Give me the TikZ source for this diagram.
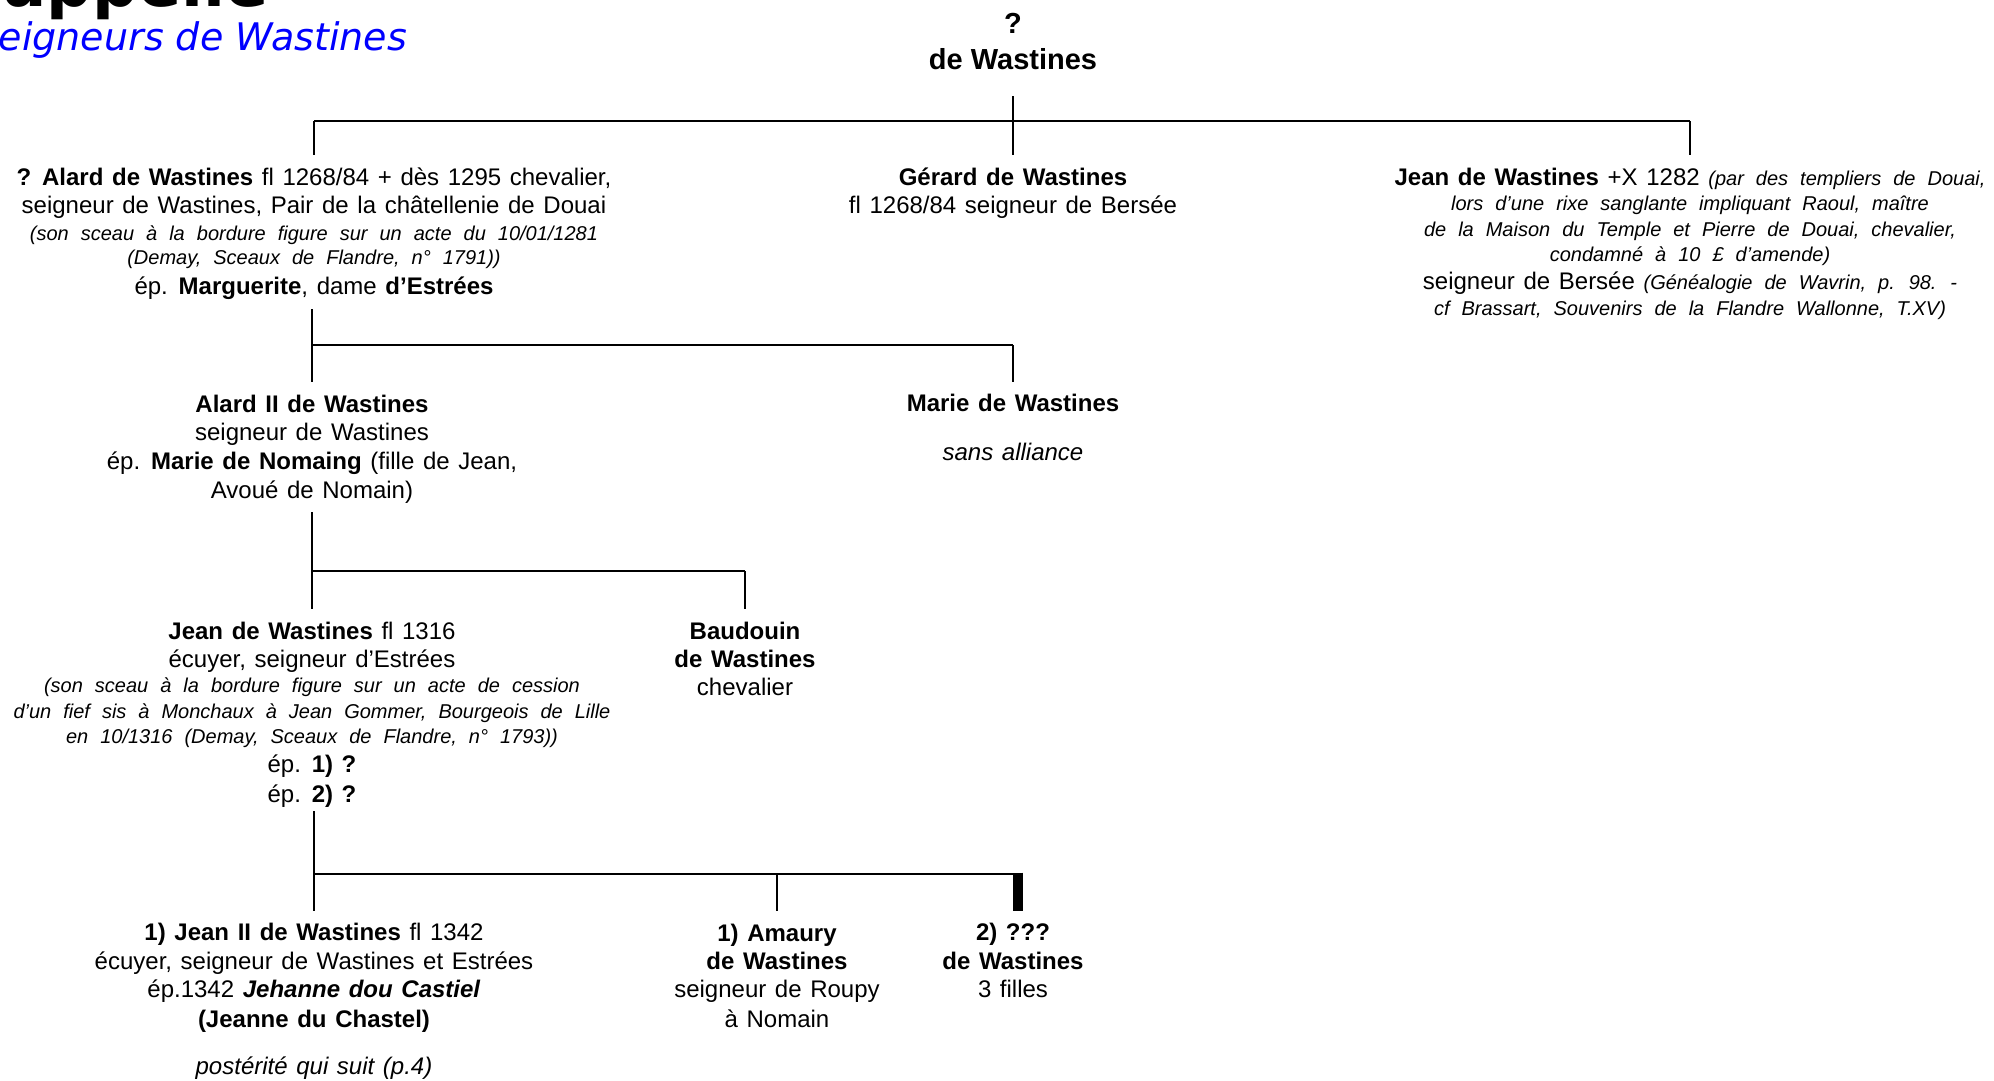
\documentclass[tikz,border=0pt]{standalone}
\usepackage{fontspec}
\setmainfont{Liberation Sans}
\newfontfamily\titlefont{DejaVu Sans}
\usetikzlibrary{calc}
\newcommand\bodyf{\fontsize{24}{28.8}\selectfont\spaceskip=0.36em\relax}
\newcommand\notef{\fontsize{20}{25.5}\selectfont\itshape\spaceskip=0.6em\relax}
\newcommand\rootf{\fontsize{29}{35.5}\selectfont}
\tikzset{
  vline/.style={line width=1.6pt},
  bus/.style={line width=2.6pt},
  person/.style={align=center, inner sep=0pt, anchor=base, font=\bodyf},
}
\begin{document}
\begin{tikzpicture}[x=1pt,y=-1pt]
\fill[white] (0,0) rectangle (1994,1080);
\useasboundingbox (0,0) rectangle (1994,1080);
% titles
\node[anchor=base east, inner sep=0pt, font=\titlefont\bfseries\fontsize{64}{70}\selectfont] (ttl) at (269,6) {appelle};
\node[anchor=base west, inner sep=0pt, text=blue, font=\titlefont\itshape\fontsize{38}{44}\selectfont] (sub) at (-25.5,50.5) {Seigneurs de Wastines};
% level coordinates
\coordinate (r0) at (0,96);
\coordinate (b1) at (0,121);
\coordinate (t1) at (0,155);
\coordinate (a1) at (0,309);
\coordinate (b2) at (0,345);
\coordinate (t2) at (0,382);
\coordinate (a2) at (0,512);
\coordinate (b3) at (0,571);
\coordinate (t3) at (0,609);
\coordinate (a3) at (0,811);
\coordinate (b4) at (0,874);
\coordinate (t4) at (0,911);
% people (anchor base = baseline of the last line)
\node[person, font=\rootf] (root) at (1013,69) {\textbf{?}\\\textbf{de Wastines}};
\node[person] (alard) at (314,294.5) {\textbf{? Alard de Wastines} fl 1268/84 + dès 1295 chevalier,\\[-0.8pt]
seigneur de Wastines, Pair de la châtellenie de Douai\\[-2.3pt]
{\notef (son sceau à la bordure figure sur un acte du 10/01/1281}\\[-4.8pt]
{\notef (Demay, Sceaux de Flandre, n° 1791))}\\[1.7pt]
ép. \textbf{Marguerite}, dame \textbf{d’Estrées}};
\node[person] (gerard) at (1013,213.5) {\textbf{Gérard de Wastines}\\[-0.8pt]fl 1268/84 seigneur de Bersée};
\node[person] (jeanA) at (1690,315) {\textbf{Jean de Wastines} +X 1282 {\notef (par des templiers de Douai,}\\[-3.8pt]
{\notef lors d’une rixe sanglante impliquant Raoul, maître}\\[-3.3pt]
{\notef de la Maison du Temple et Pierre de Douai, chevalier,}\\[-3.8pt]
{\notef condamné à 10 £ d’amende)}\\[-0.3pt]
seigneur de Bersée {\notef (Généalogie de Wavrin, p. 98. -}\\[-3.3pt]
{\notef cf Brassart, Souvenirs de la Flandre Wallonne, T.XV)}};
\node[person] (alard2) at (312,498.5) {\textbf{Alard II de Wastines}\\seigneur de Wastines\\ép. \textbf{Marie de Nomaing} (fille de Jean,\\Avoué de Nomain)};
\node[person] (marie) at (1013,460) {\textbf{Marie de Wastines}\\[19.7pt]{\itshape sans alliance}};
\node[person] (jean) at (312,802) {\textbf{Jean de Wastines} fl 1316\\[-0.8pt]
écuyer, seigneur d’Estrées\\[-3.8pt]
{\notef (son sceau à la bordure figure sur un acte de cession}\\[-3.3pt]
{\notef d’un fief sis à Monchaux à Jean Gommer, Bourgeois de Lille}\\[-3.8pt]
{\notef en 10/1316 (Demay, Sceaux de Flandre, n° 1793))}\\[0.7pt]
ép. \textbf{1) ?}\\[0.7pt]
ép. \textbf{2) ?}};
\node[person] (baudouin) at (745,695.5) {\textbf{Baudouin}\\[-0.8pt]\textbf{de Wastines}\\[-0.8pt]chevalier};
\node[person] (jean2) at (314,1074) {\textbf{1) Jean II de Wastines} fl 1342\\
écuyer, seigneur de Wastines et Estrées\\[-0.8pt]
ép.1342 \textbf{\itshape Jehanne dou Castiel}\\[0.8pt]
\textbf{(Jeanne du Chastel)}\\[18.2pt]
{\itshape postérité qui suit (p.4)}};
\node[person] (amaury) at (777,1027.5) {\textbf{1) Amaury}\\\textbf{de Wastines}\\[-0.8pt]seigneur de Roupy\\[0.8pt]à Nomain};
\node[person] (filles) at (1013,997.5) {\textbf{2) ???}\\\textbf{de Wastines}\\[-0.8pt]3 filles};
% connectors
\draw[vline] (root |- r0) -- (gerard |- t1);
\draw[bus] (alard |- b1) -- (jeanA |- b1);
\draw[vline] (alard |- b1) -- (alard |- t1);
\draw[vline] (jeanA |- b1) -- (jeanA |- t1);
\draw[vline] (alard2 |- a1) -- (alard2 |- t2);
\draw[bus] (alard2 |- b2) -- (marie |- b2);
\draw[vline] (marie |- b2) -- (marie |- t2);
\draw[vline] (jean |- a2) -- (jean |- t3);
\draw[bus] (jean |- b3) -- (baudouin |- b3);
\draw[vline] (baudouin |- b3) -- (baudouin |- t3);
\draw[vline] (jean2 |- a3) -- (jean2 |- t4);
\draw[bus] (jean2 |- b4) -- ($(filles |- b4)+(10,0)$);
\draw[vline] (amaury |- b4) -- (amaury |- t4);
\draw[line width=10pt] ($(filles |- b4)+(5,-1.3)$) -- ($(filles |- t4)+(5,0)$);
\end{tikzpicture}
\end{document}
